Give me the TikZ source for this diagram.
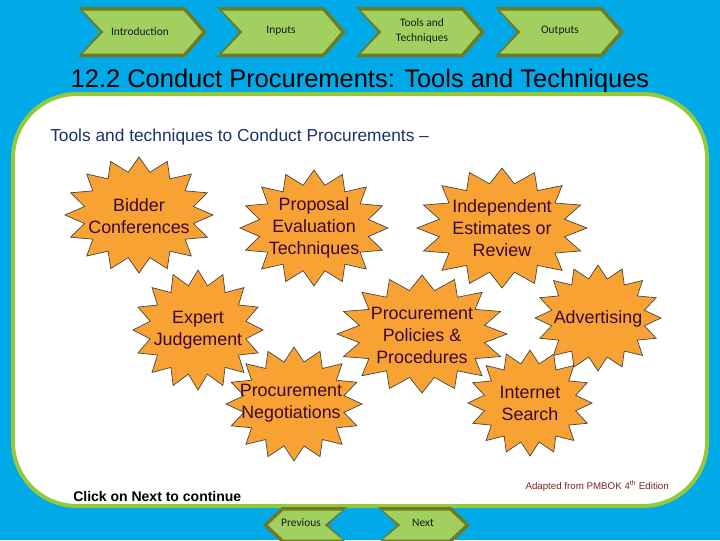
\documentclass[tikz,border=0pt]{standalone}
\usepackage{fontspec}
\setmainfont{Liberation Sans}
\newfontfamily\calib{Carlito}
\definecolor{bgblue}{RGB}{0,170,232}
\definecolor{panelgreen}{RGB}{150,200,60}
\definecolor{chevface}{RGB}{162,208,96}
\definecolor{chevedge}{RGB}{112,122,32}
\definecolor{starfill}{RGB}{248,162,52}
\definecolor{startext}{RGB}{60,8,55}
\definecolor{subblue}{RGB}{25,50,110}
\definecolor{adaptred}{RGB}{125,35,35}
\tikzset{
  burstshape/.style={fill=starfill,draw=black!75,line width=0.5pt,line join=miter},
  bursttext/.style={text=startext,align=center,font=\fontsize{13.4}{16.5}\selectfont,inner sep=0pt},
  chevtext/.style={font=\calib\fontsize{8.6}{11.5}\selectfont,align=center,text=black!90,inner sep=0pt},
  panel/.style={fill=white,draw=panelgreen,line width=3pt,rounded corners=48pt},
}
% star burst: cx, cy, rx, ry
\newcommand\burst[4]{\draw[burstshape] plot[samples at={0,...,31}] ({#1+#3*(1-0.25*mod(\x,2))*cos(\x*11.25)},{#2+#4*(1-0.25*mod(\x,2))*sin(\x*11.25)}) -- cycle;}
% right-pointing chevron: x, y, w, h, d
\newcommand\chevR[5]{%
  \fill[chevedge] (#1,#2) -- (#1+#3-#5,#2) -- (#1+#3,#2+#4/2) -- (#1+#3-#5,#2+#4) -- (#1,#2+#4) -- (#1+#5,#2+#4/2) -- cycle;
  \fill[chevface] (#1+5,#2+3.5) -- (#1+#3-#5-1.5,#2+3.5) -- (#1+#3-5,#2+#4/2) -- (#1+#3-#5-1.5,#2+#4-3.5) -- (#1+5,#2+#4-3.5) -- (#1+#5+3.5,#2+#4/2) -- cycle;}
% left-pointing chevron: x, y, w, h, d
\newcommand\chevL[5]{%
  \fill[chevedge] (#1,#2+#4/2) -- (#1+#5,#2) -- (#1+#3,#2) -- (#1+#3-#5,#2+#4/2) -- (#1+#3,#2+#4) -- (#1+#5,#2+#4) -- cycle;
  \fill[chevface] (#1+5,#2+#4/2) -- (#1+#5+1.5,#2+3.5) -- (#1+#3-5,#2+3.5) -- (#1+#3-#5-3.5,#2+#4/2) -- (#1+#3-5,#2+#4-3.5) -- (#1+#5+1.5,#2+#4-3.5) -- cycle;}
\begin{document}
\begin{tikzpicture}[x=0.75pt,y=-0.75pt]
\fill[bgblue] (0,0) rectangle (720,540);
\useasboundingbox (0,0) rectangle (720,540);
% top navigation
\chevR{78}{7}{129}{50}{22}
\chevR{217}{7}{129}{50}{22}
\chevR{356}{7}{129}{50}{22}
\chevR{495}{7}{129}{50}{22}
\node[chevtext] (intro) at (140,32) {Introduction};
\node[chevtext] (inputs) at (281,31) {Inputs};
\node[chevtext] (tools) at (422,31) {Tools and\\Techniques};
\node[chevtext] (outputs) at (560,31) {Outputs};
% title
\node[font=\fontsize{19.1}{22}\selectfont,text=black] (title) at (360,81) {12.2 Conduct Procurements: Tools and Techniques};
% panel
\draw[panel] (13,94) rectangle (707,506);
\node[anchor=west,font=\fontsize{13}{16}\selectfont,text=subblue,inner sep=0pt] (sub) at (50,137) {Tools and techniques to Conduct Procurements --};
% bursts
\burst{139}{215}{74}{58}
\node[bursttext] (bidder) at (139,216) {Bidder\\Conferences};
\burst{314}{228}{74}{58}
\node[bursttext] (proposal) at (314,228) {Proposal\\Evaluation\\Techniques};
\burst{502}{228}{85}{60}
\node[bursttext] (indep) at (502,228) {Independent\\Estimates or\\Review};
\burst{198}{330}{65}{60}
\node[bursttext] (expert) at (198,330) {Expert\\Judgement};
\burst{422}{334}{85}{59}
\node[bursttext] (policies) at (422,335) {Procurement\\Policies \&\\Procedures};
\burst{598}{318}{63}{53}
\node[bursttext] (advert) at (598,319) {Advertising};
\burst{294}{404}{68}{57}
\node[bursttext] (negot) at (291,403) {Procurement\\Negotiations};
\burst{530}{403}{62}{53}
\node[bursttext] (internet) at (530,403) {Internet\\Search};
% footer texts
\node[anchor=west,font=\bfseries\fontsize{10.5}{12}\selectfont,inner sep=0pt] (click) at (73,496) {Click on Next to continue};
\node[anchor=east,font=\fontsize{7.3}{9}\selectfont,text=adaptred,inner sep=0pt] (adapt) at (669,486) {Adapted from PMBOK 4\textsuperscript{th} Edition};
% bottom buttons
\chevL{263}{507}{84}{36}{19}
\chevR{378}{507}{92}{36}{19}
\node[chevtext] (prev) at (301,523) {Previous};
\node[chevtext] (next) at (423,523) {Next};
\end{tikzpicture}
\end{document}
